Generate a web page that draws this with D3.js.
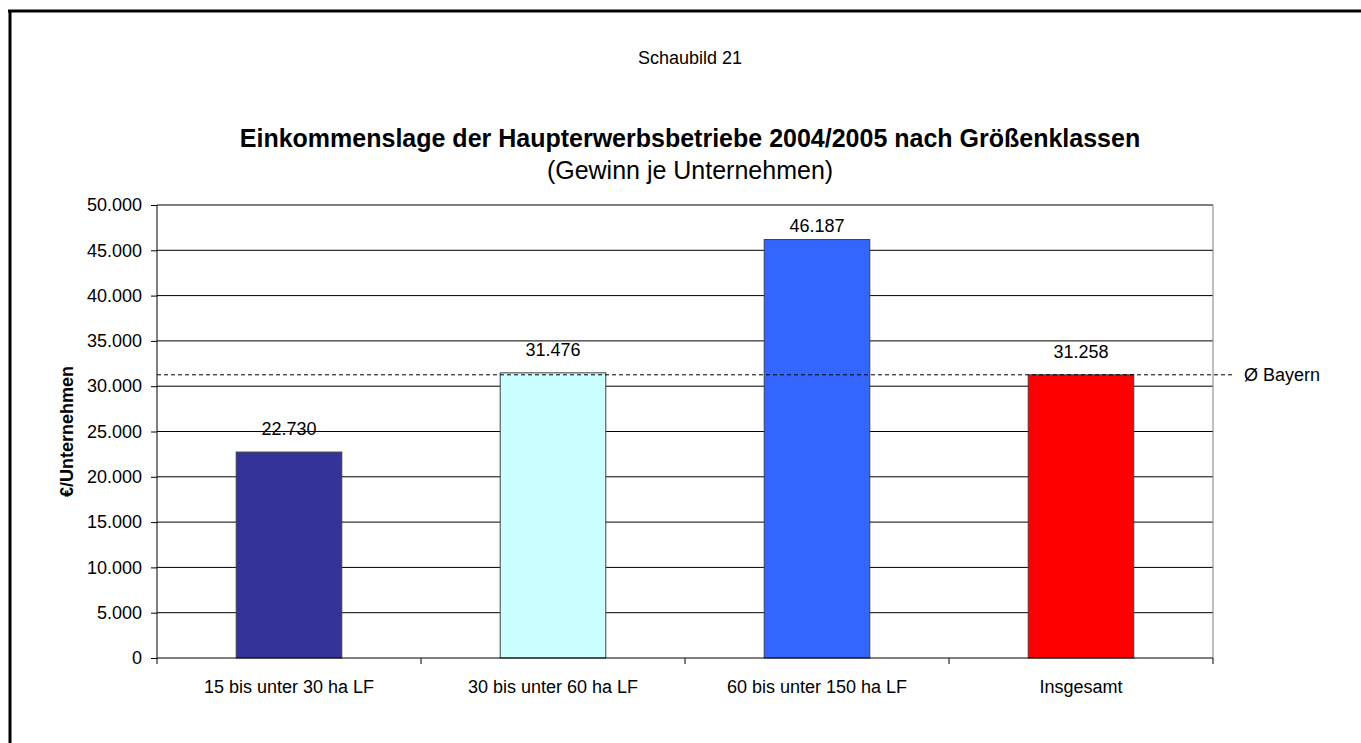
<!DOCTYPE html>
<html>
<head>
<meta charset="utf-8">
<script src="https://cdn.jsdelivr.net/npm/d3@7"></script>
<style>
  body { margin: 0; background: #fff; }
  text { font-family: "Liberation Sans", Arial, sans-serif; }
</style>
</head>
<body>
<div id="chart"></div>
<script>
// data
var categories = ["15 bis unter 30 ha LF", "30 bis unter 60 ha LF", "60 bis unter 150 ha LF", "Insgesamt"];
var values = [22730, 31476, 46187, 31258];
var colors = ["#333399", "#CCFFFF", "#3366FF", "#FF0000"];
var yTicks = [0, 5000, 10000, 15000, 20000, 25000, 30000, 35000, 40000, 45000, 50000];
var average = 31258;   // Ø Bayern

// how far each value label sits above its bar (as placed in the original)
var labelLift = [17, 17, 8, 17];

var W = 1361, H = 743;
var margin = {top: 205, right: 148, bottom: 85, left: 157},
    width = W - margin.left - margin.right,
    height = H - margin.top - margin.bottom;

var fmt = d3.formatLocale({decimal: ",", thousands: ".", grouping: [3], currency: ["", "€"]}).format(",d");

var svg = d3.select("#chart")
    .append("svg")
    .attr("width", W)
    .attr("height", H);

// outer frame (only top and left visible)
svg.append("line").attr("x1", 8).attr("x2", W).attr("y1", 11).attr("y2", 11)
    .style("stroke", "#000").style("stroke-width", 3);
svg.append("line").attr("x1", 10).attr("x2", 10).attr("y1", 10).attr("y2", H)
    .style("stroke", "#000").style("stroke-width", 3);

// titles
svg.append("text").attr("x", 690).attr("y", 64).attr("text-anchor", "middle")
    .style("font-size", "18px").text("Schaubild 21");
svg.append("text").attr("x", 690).attr("y", 147).attr("text-anchor", "middle")
    .style("font-size", "25px").style("font-weight", "bold")
    .text("Einkommenslage der Haupterwerbsbetriebe 2004/2005 nach Größenklassen");
svg.append("text").attr("x", 690).attr("y", 179).attr("text-anchor", "middle")
    .style("font-size", "25px").text("(Gewinn je Unternehmen)");

var g = svg.append("g")
    .attr("transform", "translate(" + margin.left + "," + margin.top + ")");

var x = d3.scaleBand()
    .domain(categories)
    .range([0, width])
    .paddingInner(0.6)
    .paddingOuter(0.3);

var y = d3.scaleLinear()
    .domain([0, 50000])
    .range([height, 0]);

// gridlines
g.selectAll("line.grid")
    .data(yTicks.slice(1))
    .enter()
    .append("line")
    .attr("class", "grid")
    .attr("x1", 0).attr("x2", width)
    .attr("y1", function(d) { return y(d); })
    .attr("y2", function(d) { return y(d); })
    .style("stroke", "#000").style("stroke-width", 1);

// right edge of plot area
g.append("line").attr("x1", width).attr("x2", width).attr("y1", 0).attr("y2", height)
    .style("stroke", "#808080");

// bars
g.selectAll("rect.bar")
    .data(values)
    .enter()
    .append("rect")
    .attr("class", "bar")
    .attr("x", function(d, i) { return x(categories[i]); })
    .attr("width", x.bandwidth())
    .attr("y", function(d) { return y(d); })
    .attr("height", function(d) { return height - y(d); })
    .style("fill", function(d, i) { return colors[i]; })
    .style("stroke", "#404040").style("stroke-width", 1);

// value labels
g.selectAll("text.val")
    .data(values)
    .enter()
    .append("text")
    .attr("class", "val")
    .attr("x", function(d, i) { return x(categories[i]) + x.bandwidth() / 2; })
    .attr("y", function(d, i) { return y(d) - labelLift[i]; })
    .attr("text-anchor", "middle")
    .style("font-size", "18px")
    .text(function(d) { return fmt(d); });

// average line
g.append("line")
    .attr("x1", 0).attr("x2", width + 22)
    .attr("y1", y(average)).attr("y2", y(average))
    .style("stroke", "#000").style("stroke-dasharray", "4,3");
g.append("text")
    .attr("x", width + 31).attr("y", y(average) + 6)
    .style("font-size", "18px")
    .text("Ø Bayern");

// y axis
var yAxis = g.append("g")
    .call(d3.axisLeft(y).tickValues(yTicks).tickSize(6).tickPadding(9).tickFormat(fmt));
yAxis.selectAll("text").style("font-size", "18px").style("fill", "#000");
yAxis.select(".domain").attr("d", "M0," + height + "V0").style("stroke", "#000");

// x axis: labels centred, ticks at category boundaries
var xAxis = g.append("g")
    .attr("transform", "translate(0," + height + ")")
    .call(d3.axisBottom(x).tickSize(0).tickPadding(22));
xAxis.selectAll("text").style("font-size", "18px").style("fill", "#000");
xAxis.select(".domain").attr("d", "M0,0H" + width).style("stroke", "#000");

var bounds = d3.range(categories.length + 1).map(function(i) { return i * x.step(); });
xAxis.selectAll("line.bound")
    .data(bounds)
    .enter()
    .append("line")
    .attr("class", "bound")
    .attr("x1", function(d) { return d; }).attr("x2", function(d) { return d; })
    .attr("y1", 0).attr("y2", 6)
    .style("stroke", "#000");

// y axis title
g.append("text")
    .attr("transform", "translate(-84," + (height / 2) + ") rotate(-90)")
    .attr("text-anchor", "middle")
    .style("font-size", "18px").style("font-weight", "bold")
    .text("€/Unternehmen");
</script>
</body>
</html>
